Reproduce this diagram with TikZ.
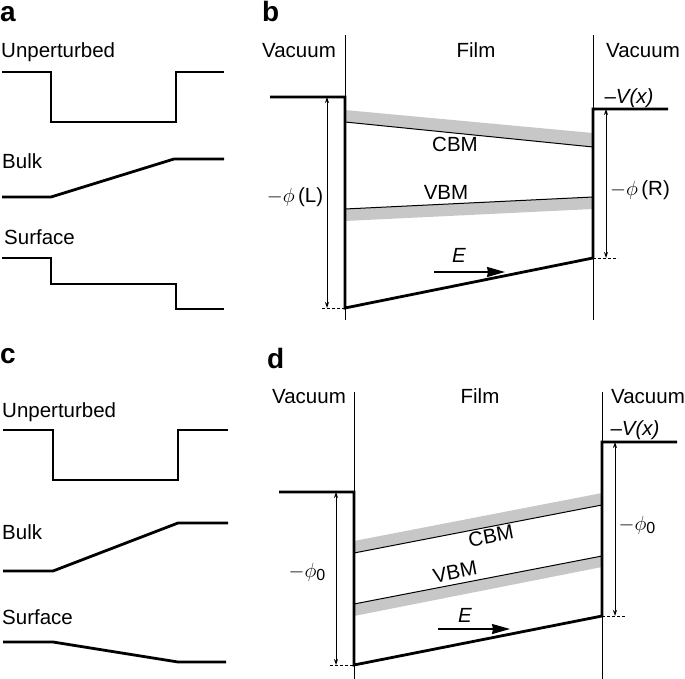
\documentclass[tikz,border=0pt]{standalone}
\usepackage{fix-cm}
\usepackage{fontspec}
\setmainfont{Liberation Sans}
\usetikzlibrary{arrows.meta}
\begin{document}
\begin{tikzpicture}[x=1pt,y=-1pt,
  lbl/.style={font=\fontsize{20.5}{24}\selectfont, inner sep=0pt},
  lblb/.style={lbl, anchor=base},
  lblw/.style={lbl, anchor=base west},
  panel/.style={font=\fontsize{28}{31}\selectfont\bfseries, inner sep=0pt, anchor=base west},
  thickline/.style={line width=2.8pt, line join=miter, line cap=butt},
  thinline/.style={line width=1pt},
  band/.style={fill=black!22, draw=none},
  meas/.style={line width=0.9pt, {Stealth[length=6pt,width=4pt]}-{Stealth[length=6pt,width=4pt]}},
  dashref/.style={line width=0.9pt, dash pattern=on 2.5pt off 2.5pt},
  efield/.style={line width=1.3pt, -{Stealth[length=18pt,width=10pt,inset=1pt]}},
]
\useasboundingbox (0,0) rectangle (685,679);

% ---------------- panel a ----------------
\node[panel] (pa) at (0,22) {a};
\node[lblw] (aU) at (1,58) {Unperturbed};
\draw[thickline] (2,72) -- (51,72) -- (51,122) -- (176,122) -- (176,72) -- (224,72);
\node[lblw] (aB) at (2,169) {Bulk};
\draw[thickline] (2,197) -- (51,197) -- (174,159) -- (224,159);
\node[lblw] (aS) at (4,244) {Surface};
\draw[thickline] (2,258) -- (51,258) -- (51,284) -- (176,284) -- (176,309) -- (224,309);

% ---------------- panel c ----------------
\node[panel] (pc) at (0,363) {c};
\node[lblw] (cU) at (2,417) {Unperturbed};
\draw[thickline] (3,430) -- (53,430) -- (53,480) -- (178,480) -- (178,430) -- (228,430);
\node[lblw] (cB) at (2,539) {Bulk};
\draw[thickline] (3,571) -- (53,571) -- (178,523) -- (228,523);
\node[lblw] (cS) at (2,624) {Surface};
\draw[thickline] (3,642) -- (53,642) -- (178,662) -- (226,662);

% ---------------- panel b ----------------
\node[panel] (pb) at (262,22) {b};
\node[lblb] (bV1) at (299,58) {Vacuum};
\node[lblb] (bF) at (476,58) {Film};
\node[lblb] (bV2) at (643,58) {Vacuum};
\coordinate (bLt) at (345,35);
\coordinate (bLb) at (345,320);
\coordinate (bRt) at (593,35);
\coordinate (bRb) at (593,320);
\draw[thinline] (bLt) -- (bLb);
\draw[thinline] (bRt) -- (bRb);
% bands
\fill[band] (345,110) -- (593,133) -- (593,147) -- (345,122) -- cycle;
\fill[band] (345,209) -- (593,197) -- (593,209) -- (345,221) -- cycle;
\coordinate (bC1) at (345,122);
\coordinate (bC2) at (593,147);
\coordinate (bV1l) at (345,209);
\coordinate (bV2l) at (593,197);
\draw[thinline] (bC1) -- (bC2);
\draw[thinline] (bV1l) -- (bV2l);
\node[lblb] (bCBM) at (455,152) {CBM};
\node[lblb] (bVBM) at (446,200) {VBM};
% potential
\coordinate (bA) at (270,97);
\coordinate (bB) at (345,97);
\coordinate (bC) at (345,308);
\coordinate (bD) at (593,258);
\coordinate (bE) at (593,109);
\coordinate (bF2) at (668,109);
\draw[thickline] (bA) -- (bB) -- (bC) -- (bD) -- (bE) -- (bF2);
\node[lbl, anchor=base] (bVx) at (629,104) {\itshape –V(x)};
% measures
\coordinate (bm1) at (327,97);
\coordinate (bm2) at (327,308);
\draw[meas] (bm1) -- (bm2);
\coordinate (bd1) at (322,308);
\draw[dashref] (bd1) -- (bC);
\node[lbl] (bphiL) at (295,197) {$-\phi$\,(L)};
\coordinate (bm3) at (606,109);
\coordinate (bm4) at (606,258);
\draw[meas] (bm3) -- (bm4);
\coordinate (bd2) at (618,258);
\draw[dashref] (bD) -- (bd2);
\node[lbl] (bphiR) at (640,190) {$-\phi$\,(R)};
% field
\coordinate (be1) at (434,272);
\coordinate (be2) at (505,272);
\draw[efield] (be1) -- (be2);
\node[lblb] (bEl) at (459,262) {\itshape E};

% ---------------- panel d ----------------
\node[panel] (pd) at (267,368) {d};
\node[lblb] (dV1) at (309,403) {Vacuum};
\node[lblb] (dF) at (480,403) {Film};
\node[lblb] (dV2) at (648,403) {Vacuum};
\coordinate (dLt) at (354,392);
\coordinate (dLb) at (354,679);
\coordinate (dRt) at (602,392);
\coordinate (dRb) at (602,679);
\draw[thinline] (dLt) -- (dLb);
\draw[thinline] (dRt) -- (dRb);
% bands
\fill[band] (354,541) -- (602,493) -- (602,505) -- (354,553) -- cycle;
\fill[band] (354,604) -- (602,556) -- (602,567) -- (354,616) -- cycle;
\coordinate (dC1) at (354,553);
\coordinate (dC2) at (602,505);
\coordinate (dV1l) at (354,604);
\coordinate (dV2l) at (602,556);
\draw[thinline] (dC1) -- (dC2);
\draw[thinline] (dV1l) -- (dV2l);
\node[lbl, rotate=11] (dCBM) at (491,536) {CBM};
\node[lbl, rotate=11] (dVBM) at (455,572) {VBM};
% potential
\coordinate (dA) at (279,492);
\coordinate (dB) at (354,492);
\coordinate (dC) at (354,665);
\coordinate (dD) at (602,616);
\coordinate (dE) at (602,442);
\coordinate (dF2) at (677,442);
\draw[thickline] (dA) -- (dB) -- (dC) -- (dD) -- (dE) -- (dF2);
\node[lbl, anchor=base] (dVx) at (635,435) {\itshape –V(x)};
% measures
\coordinate (dm1) at (336,492);
\coordinate (dm2) at (336,665);
\draw[meas] (dm1) -- (dm2);
\coordinate (dd1) at (330,665);
\draw[dashref] (dd1) -- (dC);
\node[lbl] (dphiL) at (307,572) {$-\phi$\raisebox{-0.35ex}{\fontsize{16}{16}\selectfont 0}};
\coordinate (dm3) at (615,442);
\coordinate (dm4) at (615,616);
\draw[meas] (dm3) -- (dm4);
\coordinate (dd2) at (626,616);
\draw[dashref] (dD) -- (dd2);
\node[lbl] (dphiR) at (637,525) {$-\phi$\raisebox{-0.35ex}{\fontsize{16}{16}\selectfont 0}};
% field
\coordinate (de1) at (438,629);
\coordinate (de2) at (510,629);
\draw[efield] (de1) -- (de2);
\node[lblb] (dEl) at (465,622) {\itshape E};
\end{tikzpicture}
\end{document}
